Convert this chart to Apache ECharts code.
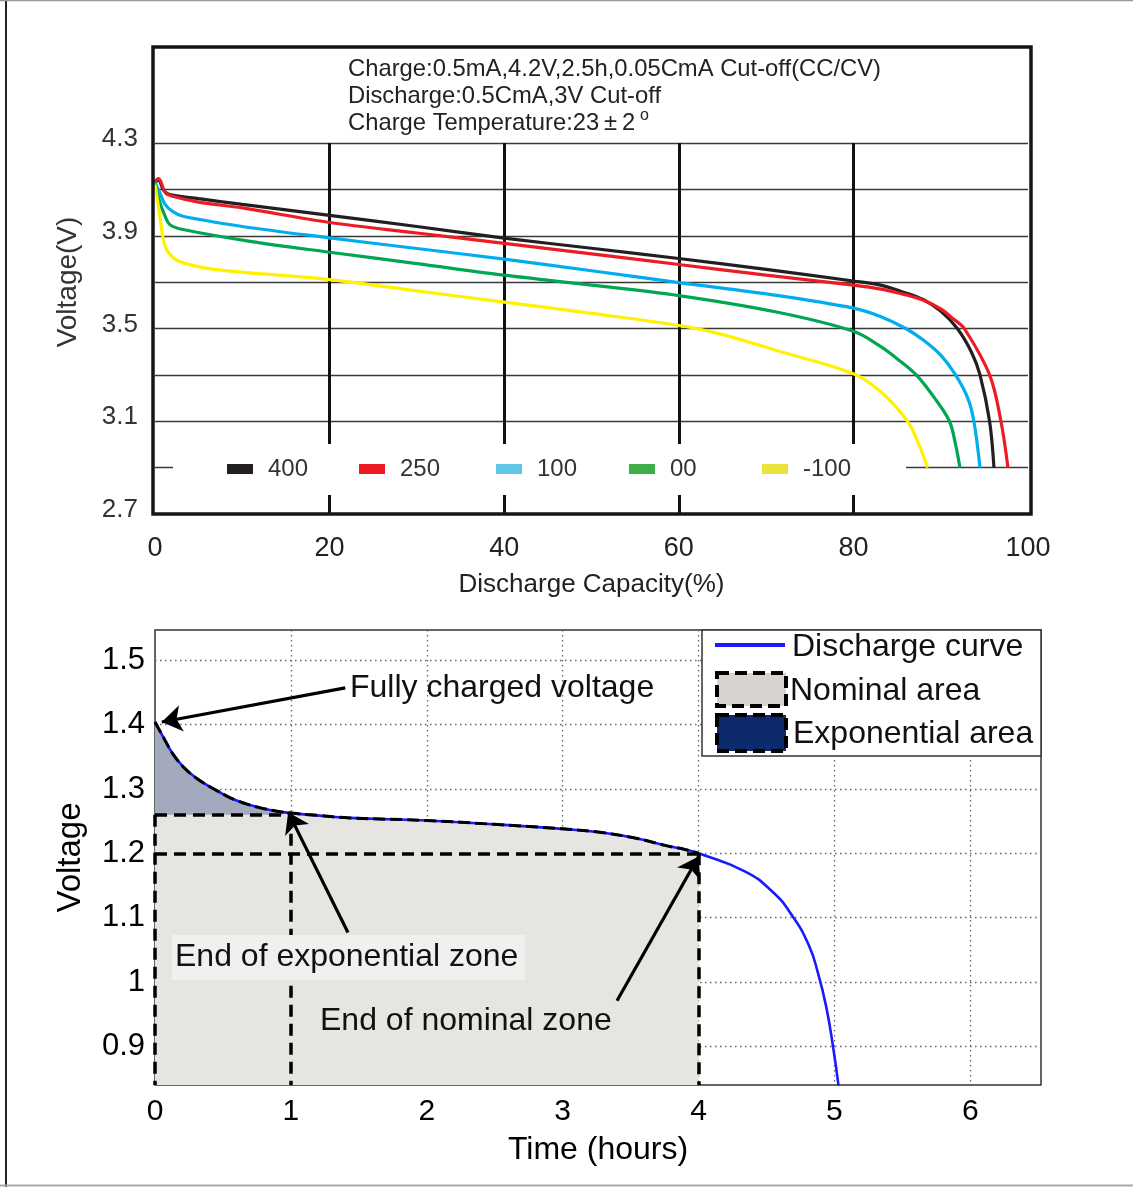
<!DOCTYPE html>
<html><head><meta charset="utf-8">
<script src="https://cdn.jsdelivr.net/npm/echarts@6/dist/echarts.min.js"></script>
<style>html,body{margin:0;padding:0;background:#fff}#c{width:1133px;height:1187px}</style>
</head><body><div id="c"></div>
<script>
// ---------- top chart data (Discharge Capacity %, Voltage V) ----------
const seriesNames = ['400', '250', '100', '00', '-100'];
const lineColors = ['#231f20', '#ed1c24', '#00aeef', '#00a651', '#fff200'];
const legendColors = ['#231f20', '#ed1c24', '#5ec6e6', '#3fae49', '#ece23c'];
const curve400 = [[0,4.13],[0.4,4.14],[1,4.095],[1.7,4.078],[5,4.06],[10,4.035],[20,3.988],[30,3.94],[40,3.89],[50,3.846],[60,3.802],[70,3.755],[80,3.705],[83,3.688],[85.5,3.66],[88,3.625],[90,3.575],[91.9,3.5],[93.5,3.4],[94.5,3.3],[95.6,3.1],[96.1,2.9]];
const curve250 = [[0,4.135],[0.4,4.146],[1.2,4.085],[2,4.07],[5,4.045],[10,4.02],[20,3.957],[30,3.912],[40,3.867],[50,3.822],[60,3.776],[70,3.73],[80,3.687],[83,3.671],[86,3.645],[88,3.622],[90,3.585],[91.5,3.54],[92.7,3.5],[95.6,3.3],[96.9,3.1],[97.7,2.9]];
const curve100 = [[0,4.13],[0.5,4.09],[1.15,4.035],[2,4.005],[3.2,3.984],[10,3.94],[20,3.891],[30,3.845],[40,3.799],[50,3.749],[60,3.698],[71.2,3.643],[80,3.588],[83.1,3.552],[86,3.5],[88,3.45],[90,3.385],[91.7,3.3],[93.1,3.2],[93.8,3.1],[94.5,2.9]];
const curve00 = [[0,4.12],[0.5,4.05],[1,3.999],[1.7,3.948],[3.2,3.927],[10.9,3.876],[20,3.829],[30,3.78],[40,3.73],[50,3.687],[60,3.642],[71.2,3.571],[80,3.488],[83.1,3.423],[85,3.37],[87.2,3.3],[89.3,3.2],[91,3.1],[91.7,3.0],[92.2,2.9]];
const curveM100 = [[0,4.12],[0.3,4.05],[0.6,3.97],[1.15,3.855],[2.1,3.805],[3.2,3.783],[7,3.754],[20,3.711],[30,3.662],[40,3.614],[50,3.565],[60,3.513],[64.7,3.477],[71.2,3.405],[80,3.305],[83.1,3.228],[86.2,3.1],[87.5,3.0],[88.5,2.9]];
const topCurves = [curve400, curve250, curve100, curve00, curveM100];
const topXLabels = [0, 20, 40, 60, 80, 100];
const topXGrid = [20, 40, 60, 80];
const topYLabels = [2.7, 3.1, 3.5, 3.9, 4.3];
const topYGrid = [2.9, 3.1, 3.3, 3.5, 3.7, 3.9, 4.1, 4.3];
const noteLines = ['Charge:0.5mA,4.2V,2.5h,0.05CmA Cut-off(CC/CV)', 'Discharge:0.5CmA,3V Cut-off'];
const noteTemp = 'Charge Temperature:23\u2009\u00b1\u20092';

// ---------- bottom chart data (Time h, Voltage) ----------
const timeHours = [0,0.06,0.13,0.21,0.31,0.45,0.60,0.77,0.94,1.19,1.43,2.0,2.5,3.0,3.3,3.55,3.76,3.9,4.0,4.34,4.54,4.68,4.81,4.88,4.94,4.99,5.03];
const dischargeV = [1.404,1.381,1.355,1.334,1.316,1.298,1.282,1.271,1.264,1.259,1.255,1.251,1.245,1.238,1.232,1.223,1.212,1.206,1.200,1.172,1.141,1.106,1.058,1.013,0.961,0.899,0.839];
const bottomXLabels = [0, 1, 2, 3, 4, 5, 6];
const bottomYLabels = [0.9, 1, 1.1, 1.2, 1.3, 1.4, 1.5];
const bottomYMin = 0.84, bottomYMax = 1.547, bottomXMax = 6.52;
const expEnd = [1, 1.26];   // end of exponential zone
const nomEnd = [4, 1.2];    // end of nominal zone
const arrowFull = [[1.40, 1.457], [0.05, 1.404]];
const arrowExp = [[1.42, 1.077], [0.98, 1.264]];
const arrowNom = [[3.40, 0.971], [4.0, 1.195]];

const FONT = "'Liberation Sans', Arial, Helvetica, sans-serif";
const curve = timeHours.map((t, i) => [t, dischargeV[i]]);
const nominalPart = curve.filter(p => p[0] <= nomEnd[0]);
const expPart = curve.filter(p => p[0] <= expEnd[0]);

const chart = echarts.init(document.getElementById('c'), null, {renderer: 'canvas'});

const topSeries = topCurves.map((d, i) => ({
  name: seriesNames[i], type: 'line', xAxisIndex: 0, yAxisIndex: 0,
  data: d, showSymbol: false, smooth: 0.35,
  lineStyle: {color: lineColors[i], width: 3.2}, itemStyle: {color: lineColors[i]}, z: 3
}));

const legendX = [227, 359, 496, 629, 762];
const topLegend = [];
seriesNames.forEach((n, i) => {
  topLegend.push({type: 'rect', z: 101, shape: {x: legendX[i], y: 464, width: 26, height: 10}, style: {fill: legendColors[i]}});
  topLegend.push({type: 'text', z: 101, x: legendX[i] + 41, y: 469, style: {text: n, fontSize: 24, fontFamily: FONT, fill: '#333', verticalAlign: 'middle'}});
});

const option = {
  animation: false,
  backgroundColor: '#fff',
  grid: [
    {left: 155, right: 105, top: 143, bottom: 673, show: false},
    {left: 155, right: 92, top: 630, bottom: 102, show: true, borderColor: '#333', borderWidth: 1.5, backgroundColor: 'transparent'}
  ],
  xAxis: [
    {gridIndex: 0, type: 'value', min: 0, max: 100,
      axisLine: {show: false}, axisTick: {show: false, customValues: topXGrid},
      axisLabel: {customValues: topXLabels, fontSize: 27, fontFamily: FONT, color: '#222', margin: 21},
      splitLine: {show: true, lineStyle: {color: '#111', width: 3}},
      name: 'Discharge Capacity(%)', nameLocation: 'middle', nameGap: 58,
      nameTextStyle: {fontSize: 26, fontFamily: FONT, color: '#222'}},
    {gridIndex: 1, type: 'value', min: 0, max: bottomXMax,
      axisLine: {show: false}, axisTick: {show: false, customValues: bottomXLabels.slice(1)},
      axisLabel: {customValues: bottomXLabels, fontSize: 30, fontFamily: FONT, color: '#000', margin: 12},
      splitLine: {show: true, lineStyle: {color: '#666', width: 1.3, type: [1.5, 3.5]}},
      name: 'Time (hours)', nameLocation: 'middle', nameGap: 49,
      nameTextStyle: {fontSize: 32, fontFamily: FONT, color: '#000'}}
  ],
  yAxis: [
    {gridIndex: 0, type: 'value', min: 2.7, max: 4.3,
      axisLine: {show: false}, axisTick: {show: false, customValues: topYGrid},
      axisLabel: {customValues: topYLabels, fontSize: 26, fontFamily: FONT, color: '#333', margin: 17, verticalAlign: 'bottom', lineHeight: 8},
      splitLine: {show: true, lineStyle: {color: '#3a3a3a', width: 1.3}}},
    {gridIndex: 1, type: 'value', min: bottomYMin, max: bottomYMax,
      axisLine: {show: false}, axisTick: {show: false, customValues: bottomYLabels},
      axisLabel: {customValues: bottomYLabels, fontSize: 31, fontFamily: FONT, color: '#000', margin: 10},
      splitLine: {show: true, lineStyle: {color: '#666', width: 1.3, type: [1.5, 3.5]}},
      name: 'Voltage', nameLocation: 'middle', nameGap: 68,
      nameTextStyle: {fontSize: 33, fontFamily: FONT, color: '#000'}}
  ],
  series: topSeries.concat([
    {name: 'Nominal area', type: 'line', xAxisIndex: 1, yAxisIndex: 1, data: nominalPart,
      showSymbol: false, smooth: 0.35, lineStyle: {width: 0}, areaStyle: {color: '#e7e5e2', opacity: 1, origin: 'start'}, z: 1,
      markLine: {silent: true, symbol: 'none', label: {show: false},
        lineStyle: {color: '#000', width: 3.5, type: [12, 7]},
        data: [
          [{coord: [0, expEnd[1]]}, {coord: [expEnd[0], expEnd[1]]}],
          [{coord: [expEnd[0], expEnd[1]]}, {coord: [expEnd[0], bottomYMin]}],
          [{coord: [0, nomEnd[1]]}, {coord: [nomEnd[0], nomEnd[1]]}],
          [{coord: [nomEnd[0], nomEnd[1]]}, {coord: [nomEnd[0], bottomYMin]}],
          [{coord: [0, expEnd[1]]}, {coord: [0, bottomYMin]}]
        ]}},
    {name: 'Exponential area', type: 'line', xAxisIndex: 1, yAxisIndex: 1, data: expPart,
      showSymbol: false, smooth: 0.35, lineStyle: {width: 0}, areaStyle: {color: '#a4aabd', opacity: 1, origin: 'start'}, z: 1},
    {name: 'nominal-cover', type: 'line', xAxisIndex: 1, yAxisIndex: 1, data: [[0, expEnd[1]], [expEnd[0], expEnd[1]]],
      showSymbol: false, lineStyle: {width: 0}, areaStyle: {color: '#e7e5e2', opacity: 1, origin: 'start'}, z: 1},
    {name: 'Discharge curve', type: 'line', xAxisIndex: 1, yAxisIndex: 1, data: curve,
      showSymbol: false, smooth: 0.5, lineStyle: {color: '#1a1aff', width: 2.6}, z: 3,
      markLine: {silent: true, symbol: ['none', 'arrow'], symbolSize: 20, label: {show: false},
        lineStyle: {color: '#000', width: 3.2, type: 'solid'},
        data: [
          [{coord: arrowFull[0]}, {coord: arrowFull[1]}],
          [{coord: arrowExp[0]}, {coord: arrowExp[1]}],
          [{coord: arrowNom[0]}, {coord: arrowNom[1]}]
        ]}},
    {name: 'curve-border', type: 'line', xAxisIndex: 1, yAxisIndex: 1, data: nominalPart,
      showSymbol: false, smooth: 0.35, lineStyle: {color: '#000', width: 3, type: [12, 5]}, z: 4}
  ]),
  graphic: [
    // page border
    {type: 'line', z: 120, shape: {x1: 6, y1: 0, x2: 6, y2: 1187}, style: {stroke: '#222', lineWidth: 2}},
    {type: 'line', z: 120, shape: {x1: 0, y1: 0.5, x2: 1133, y2: 0.5}, style: {stroke: '#999', lineWidth: 1.5}},
    {type: 'line', z: 120, shape: {x1: 0, y1: 1185.5, x2: 1133, y2: 1185.5}, style: {stroke: '#aaa', lineWidth: 2}},
    // top frame
    {type: 'rect', z: 100, shape: {x: 153, y: 47, width: 878, height: 467}, style: {fill: null, stroke: '#151515', lineWidth: 3.5}},
    // notes
    {type: 'text', z: 101, x: 348, y: 69, style: {text: noteLines[0], fontSize: 23.8, fontFamily: FONT, fill: '#222', verticalAlign: 'middle'}},
    {type: 'text', z: 101, x: 348, y: 96, style: {text: noteLines[1], fontSize: 23.8, fontFamily: FONT, fill: '#222', verticalAlign: 'middle'}},
    {type: 'text', z: 101, x: 348, y: 123, style: {text: noteTemp, fontSize: 23.8, fontFamily: FONT, fill: '#222', verticalAlign: 'middle'}},
    {type: 'text', z: 101, x: 640, y: 116, style: {text: 'o', fontSize: 16, fontFamily: FONT, fill: '#222', verticalAlign: 'middle'}},
    // top y axis name
    {type: 'text', z: 101, x: 68, y: 282, rotation: Math.PI / 2, style: {text: 'Voltage(V)', fontSize: 28, fontFamily: FONT, fill: '#333', align: 'center', verticalAlign: 'middle'}},
    // top legend background
    {type: 'rect', z: 100, shape: {x: 173, y: 444, width: 733, height: 51}, style: {fill: '#fff'}}
  ].concat(topLegend).concat([
    // bottom annotations
    {type: 'text', z: 101, x: 350, y: 688, style: {text: 'Fully charged voltage', fontSize: 32, fontFamily: FONT, fill: '#111', verticalAlign: 'middle'}},
    {type: 'rect', z: 100, shape: {x: 172, y: 935, width: 353, height: 45}, style: {fill: '#f0f0ef'}},
    {type: 'text', z: 101, x: 175, y: 957, style: {text: 'End of exponential zone', fontSize: 32, fontFamily: FONT, fill: '#111', verticalAlign: 'middle'}},
    {type: 'text', z: 101, x: 320, y: 1021, style: {text: 'End of nominal zone', fontSize: 32, fontFamily: FONT, fill: '#111', verticalAlign: 'middle'}},
    // bottom legend
    {type: 'rect', z: 100, shape: {x: 702, y: 630, width: 339, height: 126}, style: {fill: '#fff', stroke: '#333', lineWidth: 1.5}},
    {type: 'line', z: 101, shape: {x1: 715, y1: 645, x2: 785, y2: 645}, style: {stroke: '#1a1aff', lineWidth: 4}},
    {type: 'text', z: 101, x: 792, y: 647, style: {text: 'Discharge curve', fontSize: 32, fontFamily: FONT, fill: '#111', verticalAlign: 'middle'}},
    {type: 'rect', z: 101, shape: {x: 717, y: 673, width: 69, height: 33}, style: {fill: '#d7d3ce', stroke: '#000', lineWidth: 4, lineDash: [12, 6]}},
    {type: 'text', z: 101, x: 790, y: 691, style: {text: 'Nominal area', fontSize: 32, fontFamily: FONT, fill: '#111', verticalAlign: 'middle'}},
    {type: 'rect', z: 101, shape: {x: 717, y: 715, width: 69, height: 36}, style: {fill: '#0c2a6c', stroke: '#000', lineWidth: 4, lineDash: [12, 6]}},
    {type: 'text', z: 101, x: 793, y: 734, style: {text: 'Exponential area', fontSize: 32, fontFamily: FONT, fill: '#111', verticalAlign: 'middle'}}
  ])
};
chart.setOption(option);
</script>
</body></html>
